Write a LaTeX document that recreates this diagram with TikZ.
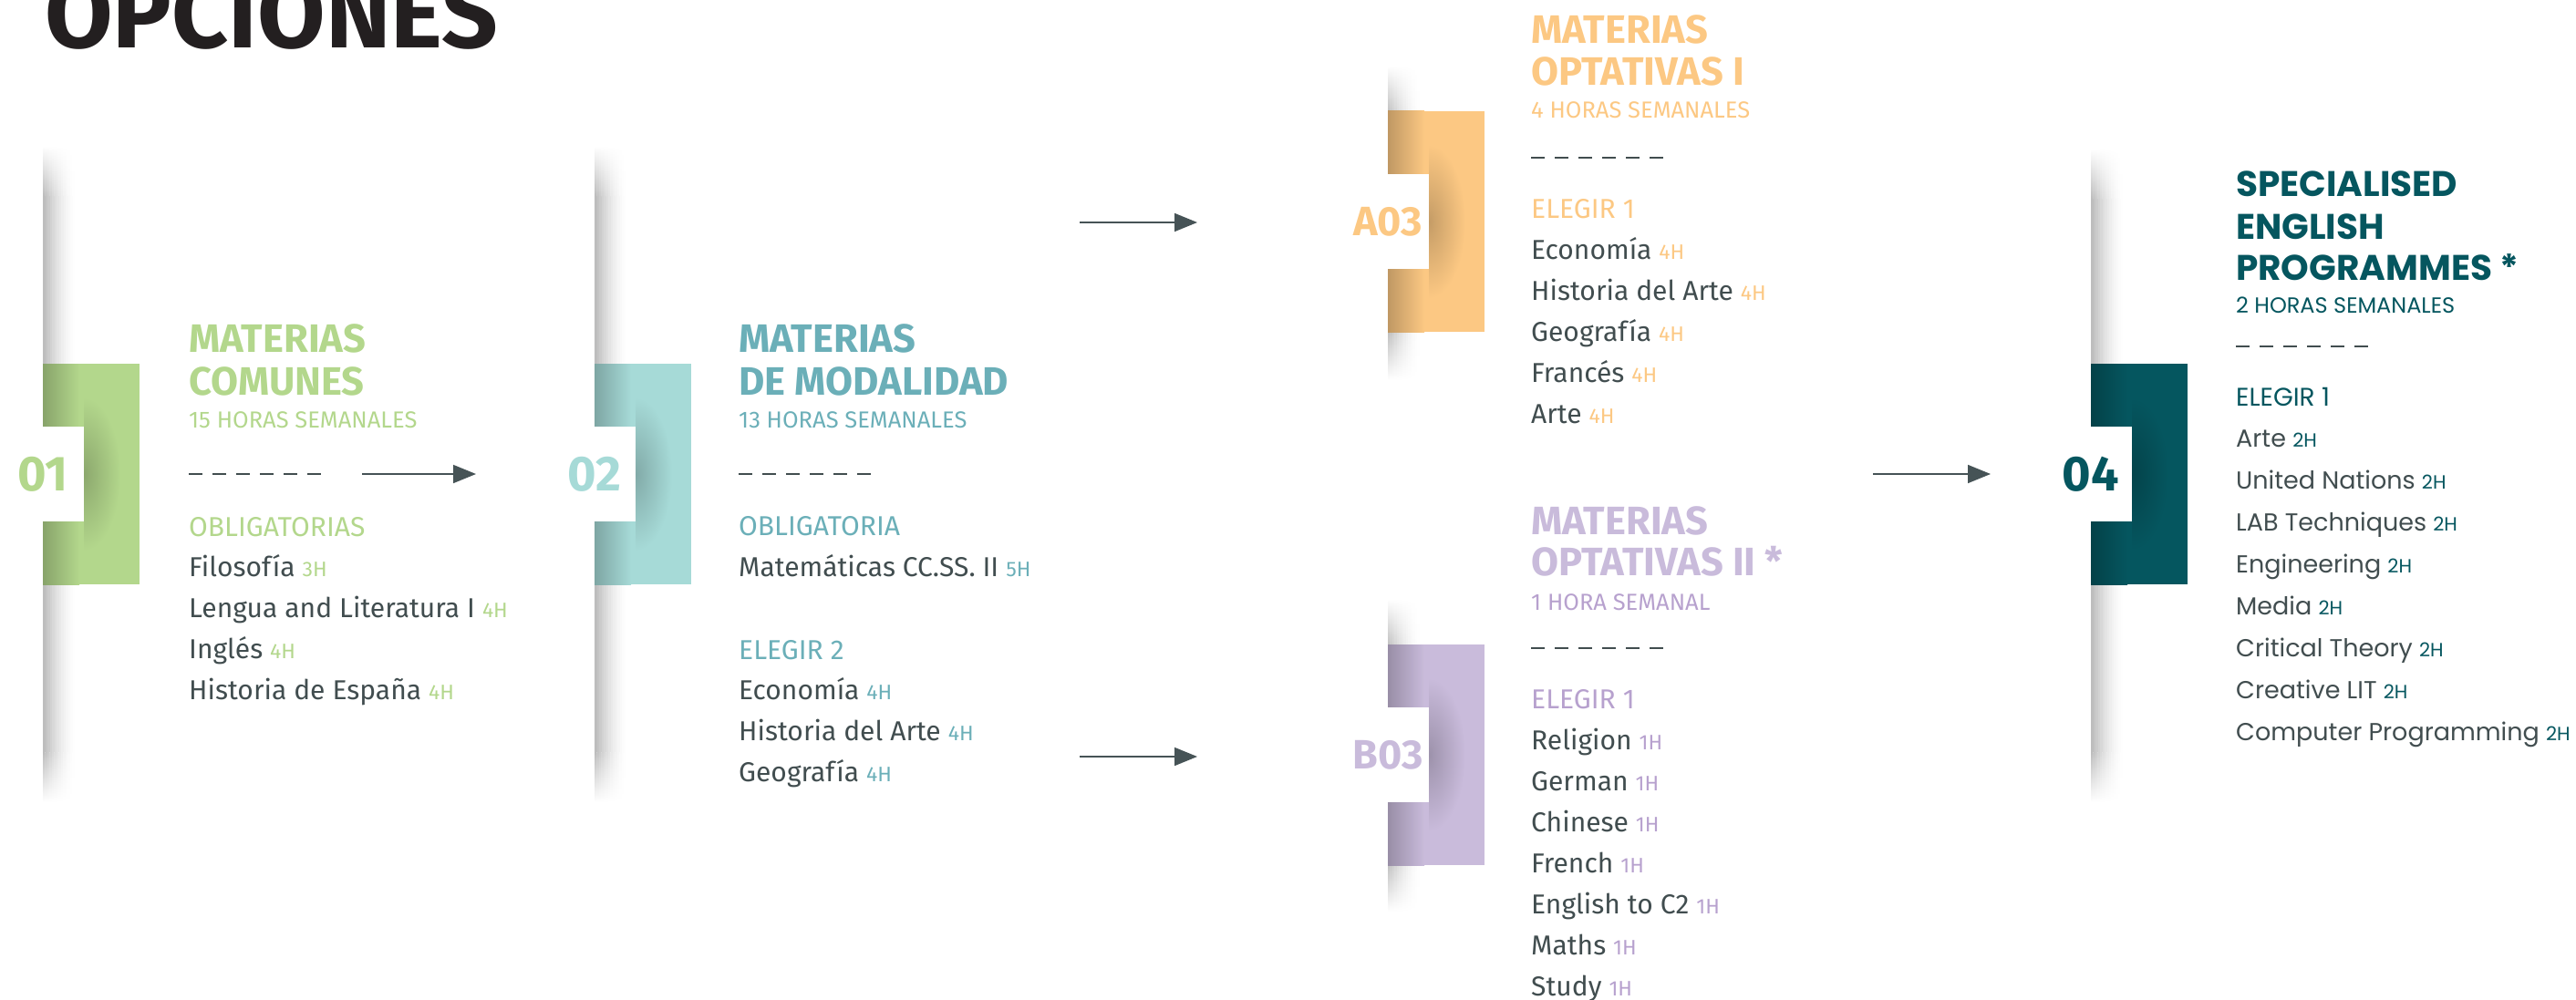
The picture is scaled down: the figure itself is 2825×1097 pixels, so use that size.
\documentclass[tikz,border=0pt]{standalone}
\usepackage{fontspec}
\setmainfont{Fira Sans}
\newfontfamily\popfont{Poppins}
\usetikzlibrary{arrows.meta}

\definecolor{cgreen}{HTML}{B3D78C}
\definecolor{cteal}{HTML}{A6DAD7}
\definecolor{ctealtxt}{HTML}{6BAFB8}
\definecolor{corange}{HTML}{FCC883}
\definecolor{cpurple}{HTML}{C9BBDB}
\definecolor{cpurpletxt}{HTML}{B7A1CE}
\definecolor{cpetrol}{HTML}{05565F}
\definecolor{cbody}{HTML}{414D4F}
\definecolor{carrow}{HTML}{465356}
\definecolor{ctitle}{HTML}{231F20}
\colorlet{tcol}{black}
\colorlet{accent}{black}

\newcommand{\hrsize}{\fontsize{23}{26}}
\newcommand{\hrtag}[1]{{\hrsize\selectfont\color{accent}#1}}

% soft grey edge of a column
\newcommand{\colshadow}[3]{%
  \foreach \i in {0,...,13}{%
    \pgfmathsetmacro\k{26*(1-\i/14)^1.6}
    \shade[top color=white, bottom color=black!\k] (#1+\i*2.5,#2) rectangle (#1+\i*2.5+2.7,#2+55);
    \fill[black!\k] (#1+\i*2.5,#2+55) rectangle (#1+\i*2.5+2.7,#3-55);
    \shade[top color=black!\k, bottom color=white] (#1+\i*2.5,#3-55) rectangle (#1+\i*2.5+2.7,#3);
  }}

% coloured block with the notch and its number
\newcommand{\colblock}[6]{%
  \fill[#3] (#1,#2) rectangle (#1+106,#2+242);
  \shade[left color=#3!76!black, right color=#3] (#1,#2) rectangle (#1+40,#2+242);
  \begin{scope}
    \clip (#1+45,#2) rectangle (#1+106,#2+242);
    \shade[inner color=#3!78!black, outer color=#3] (#1+45,#2+121) ellipse [x radius=40pt, y radius=84pt];
  \end{scope}
  \fill[white] (#1,#2+69) rectangle (#1+45,#2+173);
  \node[#5, text=#3] (#4) at (#1,#2+121) {#6};
}

\begin{document}
\begin{tikzpicture}[x=1pt, y=-1pt,
    ttl/.style={anchor=base west, inner sep=0pt, text=tcol, font=\bfseries\fontsize{43.5}{47}\selectfont},
    sub/.style={anchor=base west, inner sep=0pt, text=accent, font=\fontsize{25.5}{28}\selectfont},
    hdr/.style={anchor=base west, inner sep=0pt, text=accent, font=\fontsize{30}{34}\selectfont},
    itm/.style={anchor=base west, inner sep=0pt, text=cbody, font=\fontsize{30}{34}\selectfont},
    lbl/.style={inner sep=0pt, font=\bfseries\fontsize{54}{54}\selectfont},
    lblsmall/.style={inner sep=0pt, font=\bfseries\fontsize{45}{45}\selectfont},
    dashrule/.style={draw=cbody, line width=1.4pt, dash pattern=on 15pt off 11pt},
    flow/.style={draw=carrow, line width=1.6pt, -{Triangle[length=25pt, width=20pt]}}]

\useasboundingbox (0,0) rectangle (2825,1097);

\node[anchor=base west, inner sep=0pt, text=ctitle, font=\bfseries\fontsize{108}{112}\selectfont] (title) at (49,53) {OPCIONES};

% 01 materias comunes
\begin{scope}
  \colorlet{tcol}{cgreen}\colorlet{accent}{cgreen}
  \colshadow{47}{160}{880}
  \colblock{47}{399}{cgreen}{lbl01}{lbl}{01}
  \node[ttl] (c1-t1) at (207,386) {MATERIAS};
  \node[ttl] (c1-t2) at (207,433) {COMUNES};
  \node[sub] (c1-sub) at (207,469) {15 HORAS SEMANALES};
  \draw[dashrule] (207,520) -- (352,520);
  \node[hdr] (c1-h1) at (207,588) {OBLIGATORIAS};
  \foreach \t [count=\k from 0] in {Filosofía \hrtag{3H}, Lengua and Literatura I \hrtag{4H}, Inglés \hrtag{4H}, Historia de España \hrtag{4H}}
    \node[itm] (c1-i\k) at (207,632+45*\k) {\t};
\end{scope}

% 02 materias de modalidad
\begin{scope}
  \colorlet{tcol}{ctealtxt}\colorlet{accent}{ctealtxt}
  \colshadow{652}{160}{880}
  \colblock{652}{399}{cteal}{lbl02}{lbl}{02}
  \node[ttl] (c2-t1) at (810,386) {MATERIAS};
  \node[ttl] (c2-t2) at (810,433) {DE MODALIDAD};
  \node[sub] (c2-sub) at (810,469) {13 HORAS SEMANALES};
  \draw[dashrule] (810,520) -- (955,520);
  \node[hdr] (c2-h1) at (810,587) {OBLIGATORIA};
  \node[itm] (c2-i0) at (810,632) {Matemáticas CC.SS. II \hrtag{5H}};
  \node[hdr] (c2-h2) at (810,723) {ELEGIR 2};
  \foreach \t [count=\k from 0] in {Economía \hrtag{4H}, Historia del Arte \hrtag{4H}, Geografía \hrtag{4H}}
    \node[itm] (c2-e\k) at (810,767+45*\k) {\t};
\end{scope}

% A03 optativas I
\begin{scope}
  \colorlet{tcol}{corange}\colorlet{accent}{corange}
  \colshadow{1522}{72}{417}
  \colblock{1522}{122}{corange}{lblA}{lblsmall}{A03}
  \node[ttl] (ca-t1) at (1679,48) {MATERIAS};
  \node[ttl] (ca-t2) at (1679,94) {OPTATIVAS I};
  \node[sub] (ca-sub) at (1679,130) {4 HORAS SEMANALES};
  \draw[dashrule] (1679,173) -- (1824,173);
  \node[hdr] (ca-h1) at (1679,239) {ELEGIR 1};
  \foreach \t [count=\k from 0] in {Economía \hrtag{4H}, Historia del Arte \hrtag{4H}, Geografía \hrtag{4H}, Francés \hrtag{4H}, Arte \hrtag{4H}}
    \node[itm] (ca-i\k) at (1679,284+45*\k) {\t};
\end{scope}

% B03 optativas II
\begin{scope}
  \colorlet{tcol}{cpurple}\colorlet{accent}{cpurpletxt}
  \colshadow{1522}{657}{1000}
  \colblock{1522}{707}{cpurple}{lblB}{lblsmall}{B03}
  \node[ttl] (cb-t1) at (1679,586) {MATERIAS};
  \node[ttl] (cb-t2) at (1679,631) {OPTATIVAS II *};
  \node[sub] (cb-sub) at (1679,669) {1 HORA SEMANAL};
  \draw[dashrule] (1679,711) -- (1824,711);
  \node[hdr] (cb-h1) at (1679,777) {ELEGIR 1};
  \foreach \t [count=\k from 0] in {Religion \hrtag{1H}, German \hrtag{1H}, Chinese \hrtag{1H}, French \hrtag{1H}, English to C2 \hrtag{1H}, Maths \hrtag{1H}, Study \hrtag{1H}}
    \node[itm] (cb-i\k) at (1679,822+45*\k) {\t};
\end{scope}

% 04 specialised english programmes
\begin{scope}[ttl/.append style={font=\popfont\bfseries\fontsize{39}{46}\selectfont},
    sub/.append style={font=\popfont\fontsize{24}{28}\selectfont},
    hdr/.append style={font=\popfont\fontsize{28}{32}\selectfont},
    itm/.append style={font=\popfont\fontsize{27}{32}\selectfont}]
  \colorlet{tcol}{cpetrol}\colorlet{accent}{cpetrol}
  \renewcommand{\hrsize}{\fontsize{21}{24}}
  \colshadow{2293}{163}{880}
  \colblock{2293}{399}{cpetrol}{lbl04}{lbl}{04}
  \node[ttl] (c4-t1) at (2452,215) {SPECIALISED};
  \node[ttl] (c4-t2) at (2452,262) {ENGLISH};
  \node[ttl] (c4-t3) at (2452,307) {PROGRAMMES *};
  \node[sub] (c4-sub) at (2452,343) {2 HORAS SEMANALES};
  \draw[dashrule] (2452,380) -- (2597,380);
  \node[hdr] (c4-h1) at (2452,445) {ELEGIR 1};
  \foreach \t [count=\k from 0] in {Arte \hrtag{2H}, United Nations \hrtag{2H}, LAB Techniques \hrtag{2H}, Engineering \hrtag{2H}, Media \hrtag{2H}, Critical Theory \hrtag{2H}, Creative LIT \hrtag{2H}, Computer Programming \hrtag{2H}}
    \node[itm] (c4-i\k) at (2452,490+46*\k) {\t};
\end{scope}

% arrows between the steps
\coordinate (a1s) at (397,520);  \coordinate (a1e) at (522,520);
\coordinate (a2s) at (1184,244); \coordinate (a2e) at (1313,244);
\coordinate (a3s) at (1184,830); \coordinate (a3e) at (1313,830);
\coordinate (a4s) at (2054,520); \coordinate (a4e) at (2183,520);
\draw[flow] (a1s) -- (a1e);
\draw[flow] (a2s) -- (a2e);
\draw[flow] (a3s) -- (a3e);
\draw[flow] (a4s) -- (a4e);
\end{tikzpicture}
\end{document}
